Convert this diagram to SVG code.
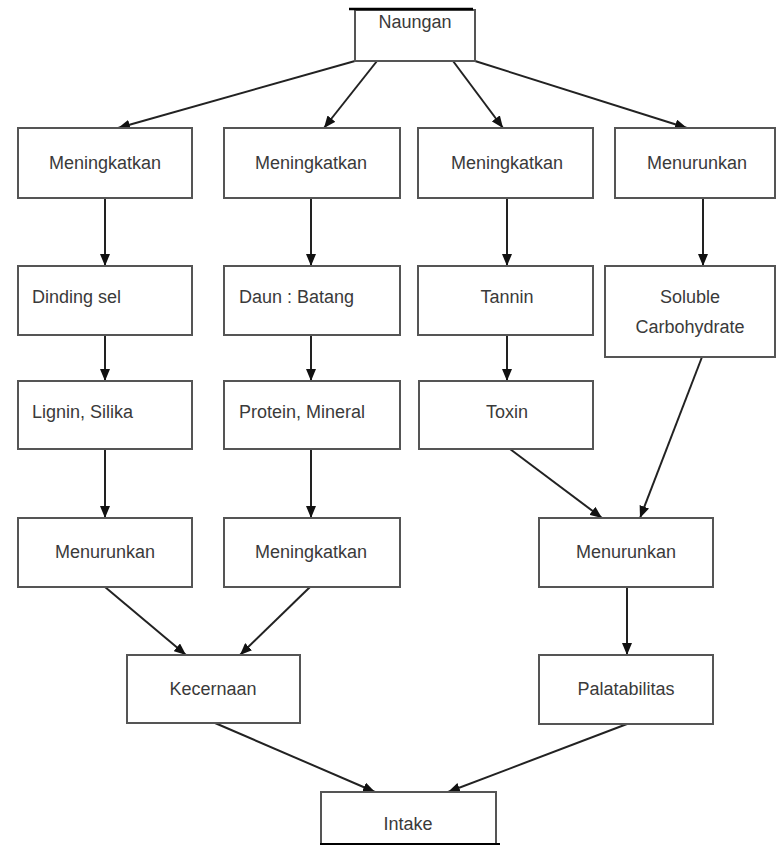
<svg xmlns="http://www.w3.org/2000/svg" width="778" height="845" viewBox="0 0 778 845">
<defs>
<marker id="ah" viewBox="0 0 12 10" refX="12" refY="5" markerWidth="12" markerHeight="10" markerUnits="userSpaceOnUse" orient="auto">
<path d="M0,0 L12,5 L0,10 Z" fill="#111"/>
</marker>
<style>
.b{fill:#fff;stroke:#555;stroke-width:2}
.t{font-family:"Liberation Sans",Arial,sans-serif;font-size:18px;fill:#3a3a3a}
.c{text-anchor:middle}
.e{fill:none;stroke:#222;stroke-width:2;marker-end:url(#ah)}
</style>
</defs>
<rect width="778" height="845" fill="#fff"/>
<g id="connectors">
<line class="e" x1="355" y1="61" x2="118" y2="128"/>
<line class="e" x1="377" y1="61" x2="324" y2="128"/>
<line class="e" x1="453" y1="61" x2="503" y2="128"/>
<line class="e" x1="475" y1="61" x2="687" y2="128"/>
<line class="e" x1="105" y1="198" x2="105" y2="266"/>
<line class="e" x1="311" y1="198" x2="311" y2="266"/>
<line class="e" x1="507" y1="198" x2="507" y2="266"/>
<line class="e" x1="703" y1="198" x2="703" y2="266"/>
<line class="e" x1="105" y1="335" x2="105" y2="381"/>
<line class="e" x1="311" y1="335" x2="311" y2="381"/>
<line class="e" x1="507" y1="335" x2="507" y2="381"/>
<line class="e" x1="105" y1="449" x2="105" y2="518"/>
<line class="e" x1="311" y1="449" x2="311" y2="518"/>
<line class="e" x1="510" y1="449" x2="602" y2="518"/>
<line class="e" x1="702" y1="357" x2="640" y2="518"/>
<line class="e" x1="627" y1="587" x2="627" y2="655"/>
<line class="e" x1="105" y1="587" x2="186" y2="655"/>
<line class="e" x1="310" y1="587" x2="240" y2="655"/>
<line class="e" x1="215" y1="723" x2="375" y2="792"/>
<line class="e" x1="627" y1="724" x2="448" y2="792"/>
</g>
<g id="naungan"><rect class="b" x="355" y="10" width="120" height="51"/><line x1="349" y1="9" x2="473" y2="9" stroke="#000" stroke-width="2.5"/><text class="t c" x="415" y="28">Naungan</text></g>
<g id="meningkatkan1"><rect class="b" x="18" y="128" width="174" height="70"/><text class="t c" x="105" y="169">Meningkatkan</text></g>
<g id="meningkatkan2"><rect class="b" x="224" y="128" width="176" height="70"/><text class="t c" x="311" y="169">Meningkatkan</text></g>
<g id="meningkatkan3"><rect class="b" x="418" y="128" width="175" height="70"/><text class="t c" x="507" y="169">Meningkatkan</text></g>
<g id="menurunkan1"><rect class="b" x="615" y="128" width="160" height="70"/><text class="t c" x="697" y="169">Menurunkan</text></g>
<g id="dinding"><rect class="b" x="18" y="266" width="174" height="69"/><text class="t" x="32" y="303">Dinding sel</text></g>
<g id="daun"><rect class="b" x="224" y="266" width="176" height="69"/><text class="t" x="239" y="303">Daun : Batang</text></g>
<g id="tannin"><rect class="b" x="418" y="266" width="175" height="69"/><text class="t c" x="507" y="303">Tannin</text></g>
<g id="soluble"><rect class="b" x="605" y="266" width="170" height="91"/><text class="t c" x="690" y="303">Soluble</text><text class="t c" x="690" y="333">Carbohydrate</text></g>
<g id="lignin"><rect class="b" x="18" y="381" width="174" height="68"/><text class="t" x="32" y="418">Lignin, Silika</text></g>
<g id="protein"><rect class="b" x="224" y="381" width="176" height="68"/><text class="t" x="239" y="418">Protein, Mineral</text></g>
<g id="toxin"><rect class="b" x="419" y="381" width="174" height="68"/><text class="t c" x="507" y="418">Toxin</text></g>
<g id="menurunkan2"><rect class="b" x="18" y="518" width="174" height="69"/><text class="t c" x="105" y="558">Menurunkan</text></g>
<g id="meningkatkan4"><rect class="b" x="224" y="518" width="176" height="69"/><text class="t c" x="311" y="558">Meningkatkan</text></g>
<g id="menurunkan3"><rect class="b" x="539" y="518" width="174" height="69"/><text class="t c" x="626" y="558">Menurunkan</text></g>
<g id="kecernaan"><rect class="b" x="127" y="655" width="173" height="68"/><text class="t c" x="213" y="695">Kecernaan</text></g>
<g id="palatabilitas"><rect class="b" x="539" y="655" width="174" height="69"/><text class="t c" x="626" y="695">Palatabilitas</text></g>
<g id="intake"><rect class="b" x="321" y="792" width="175" height="52"/><line x1="320" y1="844" x2="500" y2="844" stroke="#000" stroke-width="2"/><text class="t c" x="408" y="830">Intake</text></g>
</svg>
